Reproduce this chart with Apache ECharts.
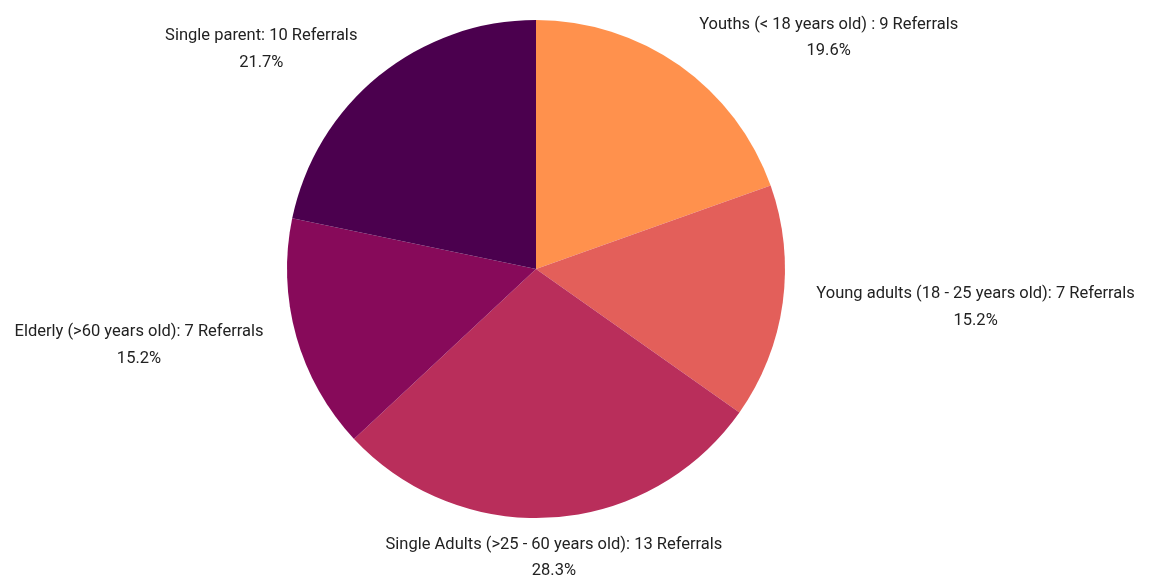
<!DOCTYPE html>
<html>
<head>
<meta charset="utf-8">
<script src="https://cdn.jsdelivr.net/npm/echarts@6/dist/echarts.min.js"></script>
<style>html,body{margin:0;padding:0;background:#fff;}#c{width:1152px;height:578px;}</style>
</head>
<body>
<div id="c"></div>
<script>
var categories = [
  'Youths (< 18 years old) : 9 Referrals',
  'Young adults (18 - 25 years old): 7 Referrals',
  'Single Adults (>25 - 60 years old): 13 Referrals',
  'Elderly (>60 years old): 7 Referrals',
  'Single parent: 10 Referrals'
];
var values = [9, 7, 13, 7, 10];
var colors = ['#FF914D', '#E35F5A', '#B92E5B', '#870A5A', '#4B004E'];

var CX = 536, CY = 269, R = 249;
var total = values.reduce(function(a, b){ return a + b; }, 0);
var mids = [];
(function(){
  var acc = 0;
  for (var i = 0; i < values.length; i++) {
    mids.push((acc + values[i] / 2) / total * Math.PI * 2);
    acc += values[i];
  }
})();

var chart = echarts.init(document.getElementById('c'), null, {renderer: 'canvas'});
chart.setOption({
  animation: false,
  backgroundColor: '#ffffff',
  series: [{
    type: 'pie',
    center: [CX, CY],
    radius: [0, R],
    startAngle: 90,
    clockwise: true,
    percentPrecision: 1,
    avoidLabelOverlap: false,
    data: categories.map(function(c, i){
      return {name: c, value: values[i], itemStyle: {color: colors[i]}};
    }),
    label: {
      show: true,
      position: 'outside',
      formatter: '{b}\n{d}%',
      fontFamily: 'Roboto',
      fontSize: 16.5,
      lineHeight: 26.5,
      color: '#222222'
    },
    labelLine: {show: false},
    labelLayout: function(params){
      var a = mids[params.dataIndex];
      var dx = Math.sin(a), dy = -Math.cos(a);
      var w = params.labelRect.width, h = params.labelRect.height;
      if (Math.abs(dx) < 0.3) {
        var r1 = 263;
        return {x: CX + dx * r1, y: CY + dy * r1 + (dy > 0 ? h / 2 : -h / 2), align: 'center', verticalAlign: 'middle'};
      }
      var r2 = 283;
      var ax = CX + dx * r2, ay = CY + dy * r2;
      return {x: ax + (dx > 0 ? w / 2 : -w / 2), y: ay, align: 'center', verticalAlign: 'middle'};
    },
    itemStyle: {borderWidth: 0},
    emphasis: {disabled: true}
  }]
});
</script>
</body>
</html>
